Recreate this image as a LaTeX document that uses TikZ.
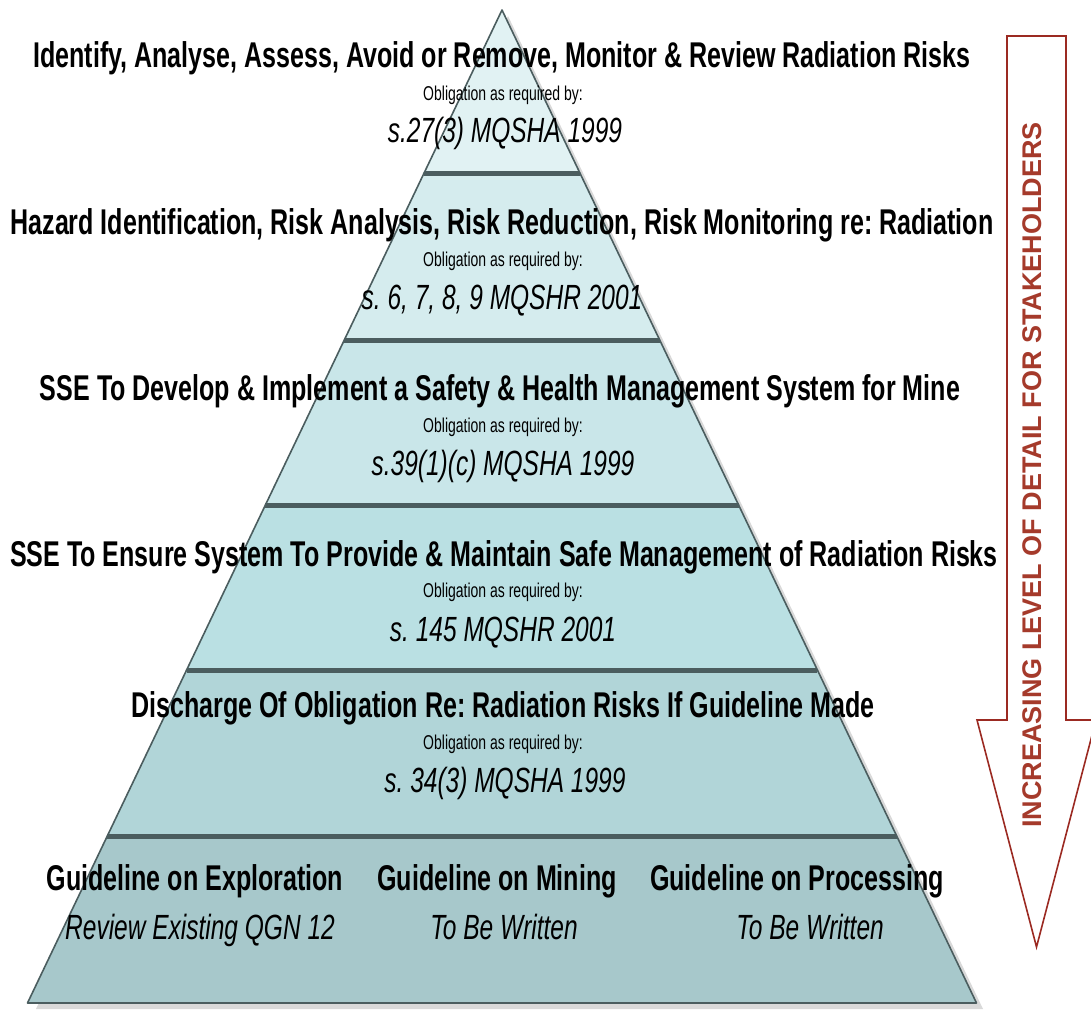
\documentclass[tikz,border=0pt]{standalone}
\usepackage{fontspec}
\setmainfont{Liberation Sans}
\newfontfamily\narrowfont[FakeStretch=0.7]{Liberation Sans}
\frenchspacing
\definecolor{bandA}{HTML}{E1F2F3}
\definecolor{bandB}{HTML}{D5ECEE}
\definecolor{bandC}{HTML}{C9E6E9}
\definecolor{bandD}{HTML}{BAE0E3}
\definecolor{bandE}{HTML}{B1D5D8}
\definecolor{bandF}{HTML}{A7C8CB}
\definecolor{edge}{HTML}{4B5D5F}
\definecolor{arrowred}{HTML}{9B2A22}
\definecolor{arrowtext}{HTML}{A53A2B}
\tikzset{
  title/.style={font=\narrowfont\bfseries\fontsize{35.8}{38}\selectfont,anchor=base,inner sep=0pt},
  oblig/.style={font=\narrowfont\fontsize{20}{22}\selectfont,anchor=base,inner sep=0pt},
  cite/.style={font=\narrowfont\itshape\fontsize{35}{38}\selectfont,anchor=base,inner sep=0pt},
  band/.style={draw=edge,line width=1.6pt,line join=round},
  divider/.style={draw=edge,line width=5pt}
}
\begin{document}
\begin{tikzpicture}[x=1pt,y=-1pt]
\useasboundingbox (0,0) rectangle (1091,1010);
% shadow
\fill[black!25,opacity=0.6] (508,16)--(983,1009)--(36,1009)--cycle;
% bands of the pyramid
\draw[band,fill=bandA](502,10)--(579.9,173)--(424.1,173)--cycle;
\draw[band,fill=bandB](424.1,173)--(579.9,173)--(659.7,340)--(344.3,340)--cycle;
\draw[band,fill=bandC](344.3,340)--(659.7,340)--(738.6,505)--(265.4,505)--cycle;
\draw[band,fill=bandD](265.4,505)--(738.6,505)--(817.4,670)--(186.6,670)--cycle;
\draw[band,fill=bandE](186.6,670)--(817.4,670)--(896.7,836)--(107.3,836)--cycle;
\draw[band,fill=bandF](107.3,836)--(896.7,836)--(976.5,1003)--(27.5,1003)--cycle;
\draw[divider](424.1,173)--(579.9,173) (344.3,340)--(659.7,340)
  (265.4,505)--(738.6,505) (186.6,670)--(817.4,670) (107.3,836)--(896.7,836);
% texts
\node[title](t1)at(502,67){Identify, Analyse, Assess, Avoid or Remove, Monitor \& Review Radiation Risks};
\node[oblig](o1)at(503,100){Obligation as required by:};
\node[cite](c1)at(505,142){s.27(3) MQSHA 1999};
\node[title](t2)at(502,234){Hazard Identification, Risk Analysis, Risk Reduction, Risk Monitoring re: Radiation};
\node[oblig](o2)at(503,266){Obligation as required by:};
\node[cite](c2)at(502,309){s. 6, 7, 8, 9 MQSHR 2001};
\node[title](t3)at(500,400){SSE To Develop \& Implement a Safety \& Health Management System for Mine};
\node[oblig](o3)at(503,432){Obligation as required by:};
\node[cite](c3)at(503,475){s.39(1)(c) MQSHA 1999};
\node[title](t4)at(504,566){SSE To Ensure System To Provide \& Maintain Safe Management of Radiation Risks};
\node[oblig](o4)at(503,597){Obligation as required by:};
\node[cite](c4)at(503,641){s. 145 MQSHR 2001};
\node[title](t5)at(503,717){Discharge Of Obligation Re: Radiation Risks If Guideline Made};
\node[oblig](o5)at(503,749){Obligation as required by:};
\node[cite](c5)at(505,792){s. 34(3) MQSHA 1999};
\node[title](g1)at(195,890){Guideline on Exploration};
\node[cite](s1)at(200,939){Review Existing QGN 12};
\node[title](g2)at(497,890){Guideline on Mining};
\node[cite](s2)at(504,939){To Be Written};
\node[title](g3)at(797,890){Guideline on Processing};
\node[cite](s3)at(810,939){To Be Written};
% arrow
\draw[arrowred,line width=1.6pt,line join=miter]
  (1007,36)--(1066,36)--(1066,720)--(1096,720)--(1036.5,947)--(977,720)--(1007,720)--cycle;
\node[rotate=90,text=arrowtext,font=\bfseries\fontsize{27}{29}\selectfont](lvl)at(1032,475)
  {INCREASING LEVEL OF DETAIL FOR STAKEHOLDERS};
\end{tikzpicture}
\end{document}
